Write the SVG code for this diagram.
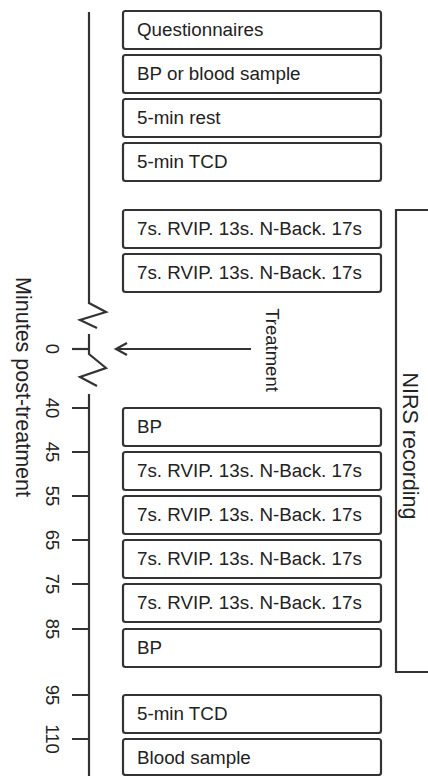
<svg xmlns="http://www.w3.org/2000/svg" width="428" height="776" viewBox="0 0 428 776">
<style>
.box rect{fill:#fff;stroke:#333;stroke-width:2.2}
.box text{font-family:"Liberation Sans",Arial,sans-serif;font-size:18.8px;fill:#222}
.ln{fill:none;stroke:#333;stroke-width:2.2}
.rt{font-family:"Liberation Sans",Arial,sans-serif;fill:#222;text-anchor:middle}
</style>
<rect width="428" height="776" fill="#fff"/>
<g id="connectors">
<path class="ln" d="M89,12 V303 L106,312 L80,320 L97,328"/>
<path class="ln" d="M89,334 V354 L106,368 L80,377 L97,386"/>
<path class="ln" d="M89,394 V776"/>
<path class="ln" d="M72,349 H89"/>
<path class="ln" d="M72,408 H89 M72,452 H89 M72,496 H89 M72,540 H89 M72,584 H89 M72,629 H89 M72,695 H89 M72,739 H89"/>
<path class="ln" d="M251,349 H116 M127,343 L116,349 L127,355"/>
<path class="ln" d="M428,210 H396 V672 H428"/>
</g>
<g id="axis-labels">
<text class="rt" font-size="21.5" transform="translate(16,387) rotate(90)">Minutes post-treatment</text>
<g font-size="18.5">
<text class="rt" transform="translate(46,349) rotate(90)">0</text>
<text class="rt" transform="translate(46,408) rotate(90)">40</text>
<text class="rt" transform="translate(46,452) rotate(90)">45</text>
<text class="rt" transform="translate(46,496) rotate(90)">55</text>
<text class="rt" transform="translate(46,540) rotate(90)">65</text>
<text class="rt" transform="translate(46,584) rotate(90)">75</text>
<text class="rt" transform="translate(46,629) rotate(90)">85</text>
<text class="rt" transform="translate(46,695) rotate(90)">95</text>
<text class="rt" transform="translate(46,739) rotate(90)">110</text>
</g>
<text class="rt" font-size="18.5" transform="translate(266,350) rotate(90)">Treatment</text>
<text class="rt" font-size="21.5" transform="translate(403,446) rotate(90)">NIRS recording</text>
</g>
<g id="n1" class="box"><rect x="123" y="11" width="258" height="38" rx="2.5"/><text x="137" y="36">Questionnaires</text></g>
<g id="n2" class="box"><rect x="123" y="55" width="258" height="38" rx="2.5"/><text x="137" y="80">BP or blood sample</text></g>
<g id="n3" class="box"><rect x="123" y="99" width="258" height="38" rx="2.5"/><text x="137" y="124">5-min rest</text></g>
<g id="n4" class="box"><rect x="123" y="143" width="258" height="38" rx="2.5"/><text x="137" y="168">5-min TCD</text></g>
<g id="n5" class="box"><rect x="123" y="210" width="258" height="38" rx="2.5"/><text x="137" y="235">7s. RVIP. 13s. N-Back. 17s</text></g>
<g id="n6" class="box"><rect x="123" y="254" width="258" height="38" rx="2.5"/><text x="137" y="279">7s. RVIP. 13s. N-Back. 17s</text></g>
<g id="n7" class="box"><rect x="123" y="408" width="258" height="38" rx="2.5"/><text x="137" y="433">BP</text></g>
<g id="n8" class="box"><rect x="123" y="452" width="258" height="38" rx="2.5"/><text x="137" y="477">7s. RVIP. 13s. N-Back. 17s</text></g>
<g id="n9" class="box"><rect x="123" y="496" width="258" height="38" rx="2.5"/><text x="137" y="521">7s. RVIP. 13s. N-Back. 17s</text></g>
<g id="n10" class="box"><rect x="123" y="540" width="258" height="38" rx="2.5"/><text x="137" y="565">7s. RVIP. 13s. N-Back. 17s</text></g>
<g id="n11" class="box"><rect x="123" y="584" width="258" height="38" rx="2.5"/><text x="137" y="609">7s. RVIP. 13s. N-Back. 17s</text></g>
<g id="n12" class="box"><rect x="123" y="629" width="258" height="38" rx="2.5"/><text x="137" y="654">BP</text></g>
<g id="n13" class="box"><rect x="123" y="695" width="258" height="38" rx="2.5"/><text x="137" y="720">5-min TCD</text></g>
<g id="n14" class="box"><rect x="123" y="739" width="258" height="36" rx="2.5"/><text x="137" y="764">Blood sample</text></g>
</svg>
